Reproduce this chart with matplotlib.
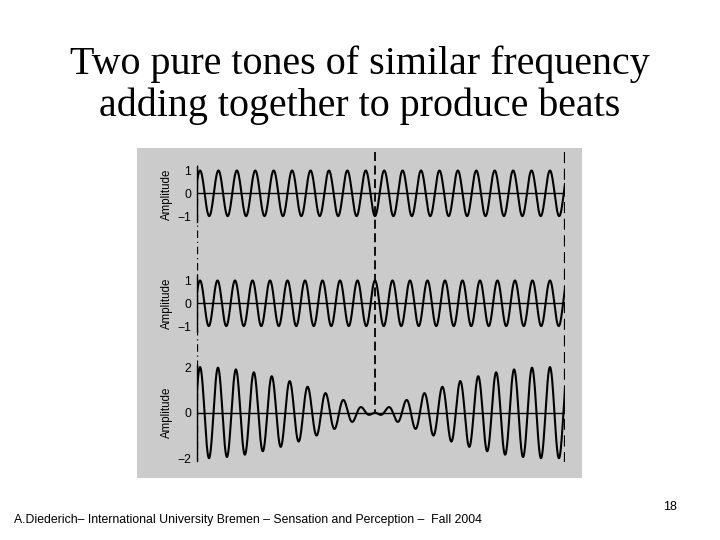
import numpy as np
import matplotlib
matplotlib.use("Agg")
import matplotlib.pyplot as plt

# two tones: cycles per beat period, amplitude 1 each
tone_freqs = [19, 20]
tone_amps = [1.0, 1.0]
x_range = [-0.0095, 1.043]      # time in beat periods
yticks_tone = [-1, 0, 1]
yticks_sum = [-2, 0, 2]
ylabels = ["Amplitude", "Amplitude", "Amplitude"]

title = "Two pure tones of similar frequency\nadding together to produce beats"
footer = "A.Diederich\u2013 International University Bremen \u2013 Sensation and Perception \u2013  Fall 2004"
page_no = "18"

W, H = 720, 540
fig = plt.figure(figsize=(7.2, 5.4), dpi=100)
fig.patch.set_facecolor("white")

def px(x0, y0, x1, y1):
    # pixel box (top-left origin) -> figure fraction rect
    return [x0 / W, 1 - y1 / H, (x1 - x0) / W, (y1 - y0) / H]

fig.text(0.5, 1 - 85 / H, title, ha="center", va="center",
         family="Liberation Serif", fontsize=28.8, linespacing=1.17)
fig.text(14 / W, 1 - 523 / H, footer, ha="left", va="baseline",
         family="Liberation Sans", fontsize=8.8)
fig.text(677 / W, 1 - 510 / H, page_no, ha="right", va="baseline",
         family="Liberation Sans", fontsize=9)

# grey panel
panel = fig.add_axes(px(137.3, 148.3, 581.7, 478.3))
panel.set_facecolor("#cbcbcb")
panel.set_xticks([])
panel.set_yticks([])
for s in panel.spines.values():
    s.set_visible(False)

t = np.linspace(x_range[0], x_range[1], 3000)
w1 = tone_amps[0] * np.cos(2 * np.pi * tone_freqs[0] * t)
w2 = tone_amps[1] * np.cos(2 * np.pi * tone_freqs[1] * t)
waves = [w1, w2, w1 + w2]

ax_left, ax_right = 196.7, 565
boxes = [(167.1, 222.0, (-1.26, 1.15), yticks_tone, ["\u22121", "0", "1"]),
         (275.0, 332.0, (-1.26, 1.24), yticks_tone, ["\u22121", "0", "1"]),
         (364.8, 460.6, (-2.1, 2.1), yticks_sum, ["\u22122", "0", "2"])]

for wave, (top, bot, ylim, ticks, labels), lab in zip(waves, boxes, ylabels):
    ax = fig.add_axes(px(ax_left, top, ax_right, bot))
    ax.patch.set_visible(False)
    ax.plot(t, wave, color="black", lw=1.5)
    ax.axhline(0, color="black", lw=1.0)
    ax.set_xlim(x_range)
    ax.set_ylim(ylim)
    for name in ["top", "right", "bottom"]:
        ax.spines[name].set_visible(False)
    ax.spines["left"].set_linewidth(1.0)
    ax.set_xticks([])
    ax.set_yticks(ticks)
    ax.set_yticklabels(labels, family="Liberation Sans", fontsize=8.8)
    ax.tick_params(axis="y", length=0, pad=4)
    ax.set_ylabel(lab, family="Liberation Sans", fontsize=8.3, labelpad=3)

# dashed markers at start, middle and end of the beat
ov = fig.add_axes(px(ax_left, 148.3, ax_right, 478.3))
ov.patch.set_visible(False)
ov.set_xlim(x_range)
ov.set_ylim(0, 1)
ov.axis("off")
ov.plot([0.5, 0.5], [0.988, 0.2], color="black", lw=1.3, dashes=(5, 2.5))
ov.plot([x_range[1], x_range[1]], [0.988, 0.048], color="black", lw=1.6, dashes=(5, 2.5))
ov.plot([x_range[0], x_range[0]], [0.948, 0.055], color="black", lw=0.9, dashes=(6, 3, 1, 3))

fig.savefig("out.png", dpi=100)
